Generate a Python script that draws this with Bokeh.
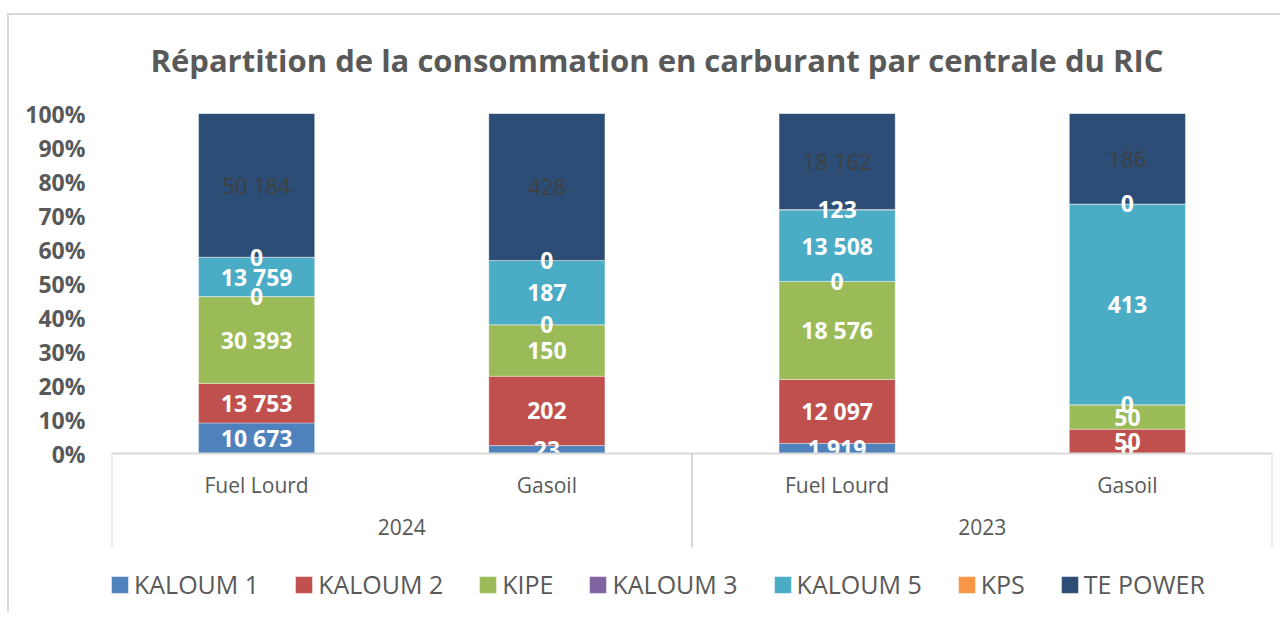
from bokeh.plotting import figure
from bokeh.models import (FactorRange, Range1d, NumeralTickFormatter, Legend, LegendItem,
                          ColumnDataSource, FixedTicker)
from bokeh.embed import file_html
from bokeh.resources import INLINE
from bokeh.core.properties import value

# ---------------- data ----------------
years = ["2024", "2024", "2023", "2023"]
fuels = ["Fuel Lourd", "Gasoil", "Fuel Lourd", "Gasoil"]
series = ["KALOUM 1", "KALOUM 2", "KIPE", "KALOUM 3", "KALOUM 5", "KPS", "TE POWER"]
colors = ["#4F81BD", "#C0504D", "#9BBB59", "#8064A2", "#4BACC6", "#F79646", "#2C4D75"]
kaloum1 = [10673, 23, 1919, 0]
kaloum2 = [13753, 202, 12097, 50]
kipe = [30393, 150, 18576, 50]
kaloum3 = [0, 0, 0, 0]
kaloum5 = [13759, 187, 13508, 413]
kps = [0, 0, 123, 0]
te_power = [50184, 428, 18162, 186]
y_ticks = [0, 0.1, 0.2, 0.3, 0.4, 0.5, 0.6, 0.7, 0.8, 0.9, 1.0]
title_text = "Répartition de la consommation en carburant par centrale du RIC"

values = [kaloum1, kaloum2, kipe, kaloum3, kaloum5, kps, te_power]
factors = list(zip(years, fuels))
totals = [sum(v[i] for v in values) for i in range(len(factors))]

# ---------------- layout constants ----------------
FONT = "Open Sans"
GREY = "#595959"
LINE = "#d9d9d9"
W, H = 1280, 613
LEFT, RIGHT, TOP = 111, 8, 113
UNIT = 340.0                      # pixels for 100 %
FRAME_H = H - TOP
Y_START = 1 - FRAME_H / UNIT      # extra room below 0 % for the category axis + legend
BOX_DEPTH = 94 / UNIT             # depth of the category-label box

p = figure(width=W, height=H,
           x_range=FactorRange(*factors, range_padding=0, group_padding=0, factor_padding=0),
           y_range=Range1d(Y_START, 1),
           output_backend="svg", toolbar_location=None,
           min_border_left=LEFT, min_border_right=RIGHT, min_border_top=TOP, min_border_bottom=0)

# light chart-area border (top and left), drawn behind a transparent border fill
p.border_fill_alpha = 0
p.styles = {
    "background-color": "#ffffff",
    "background-image": f"linear-gradient({LINE}, {LINE}), linear-gradient({LINE}, {LINE})",
    "background-size": "calc(100% - 8px) 2px, 2px calc(100% - 14px)",
    "background-position": "8px 13px, 7px 13px",
    "background-repeat": "no-repeat",
}

p.title.text = title_text
p.title.align = "left"
p.title.offset = 39
p.title.standoff = 65
p.title.text_font = FONT
p.title.text_font_size = "31px"
p.title.text_font_style = "bold"
p.title.text_color = GREY

p.outline_line_color = None
p.xgrid.grid_line_color = None
p.ygrid.grid_line_color = None

# y axis
p.yaxis.ticker = FixedTicker(ticks=y_ticks)
p.yaxis.formatter = NumeralTickFormatter(format="0%")
p.yaxis.axis_line_color = None
p.yaxis.major_tick_line_color = None
p.yaxis.major_tick_out = 0
p.yaxis.major_tick_in = 0
p.yaxis.minor_tick_line_color = None
p.yaxis.major_label_standoff = 26
p.yaxis.major_label_text_font = FONT
p.yaxis.major_label_text_font_size = "23px"
p.yaxis.major_label_text_font_style = "bold"
p.yaxis.major_label_text_color = GREY

# ---------------- stacked bars ----------------
renderers = []
sources = []
bottom = [0.0] * len(factors)
for name, vals, col in zip(series, values, colors):
    frac = [v / t for v, t in zip(vals, totals)]
    top = [b + f for b, f in zip(bottom, frac)]
    mid = [(b + t) / 2 for b, t in zip(bottom, top)]
    src = ColumnDataSource(dict(x=factors, bottom=bottom, top=top, mid=mid,
                                label=[f"{v:,}".replace(",", " ") for v in vals]))
    r = p.vbar(x="x", bottom="bottom", top="top", width=0.4, source=src,
               fill_color=col, line_color="#ffffff", line_width=0.6, line_alpha=0.6)
    renderers.append((name, r))
    sources.append((name, src))
    bottom = top

# data labels, drawn over all bars
for name, src in sources:
    if name == "TE POWER":
        p.text(x="x", y="mid", text="label", source=src, text_align="center",
               text_baseline="middle", text_color="#404040",
               text_font=value(FONT), text_font_size="22px")
    else:
        p.text(x="x", y="mid", text="label", source=src, text_align="center",
               text_baseline="middle", text_color="#ffffff", text_font_style="bold",
               text_font=value(FONT), text_font_size="23px")

# white cover below 0 % (plot area clips the labels there), then category box lines
p.quad(left=[0], right=[len(factors)], top=[0], bottom=[Y_START],
       fill_color="#ffffff", line_color=None)
bounds = [0] + [i for i in range(1, len(years)) if years[i] != years[i - 1]] + [len(years)]
p.segment(x0=bounds, x1=bounds, y0=[0] * len(bounds), y1=[-BOX_DEPTH] * len(bounds),
          line_color=LINE, line_width=2)

# x axis (nested categories), drawn at 0 %
xa = p.xaxis[0]
xa.fixed_location = 0
xa.axis_line_color = LINE
xa.axis_line_width = 2
xa.major_tick_line_color = None
xa.major_tick_out = 0
xa.major_tick_in = 0
xa.minor_tick_line_color = None
xa.major_label_text_font = FONT
xa.major_label_text_font_size = "21px"
xa.major_label_text_color = GREY
xa.major_label_standoff = 17
xa.group_text_font = FONT
xa.group_text_font_size = "21px"
xa.group_text_color = GREY
xa.group_text_font_style = "normal"
xa.separator_line_color = None

legend = Legend(items=[LegendItem(label=n, renderers=[r]) for n, r in renderers],
                orientation="horizontal", location=(-2, 12),
                label_text_font=FONT, label_text_font_size="25px", label_text_color=GREY,
                glyph_width=21, glyph_height=21, spacing=34, label_standoff=4,
                border_line_color=None, background_fill_alpha=0, padding=0, margin=0)
p.add_layout(legend, "center")

open("out.html", "w").write(file_html(p, INLINE))
